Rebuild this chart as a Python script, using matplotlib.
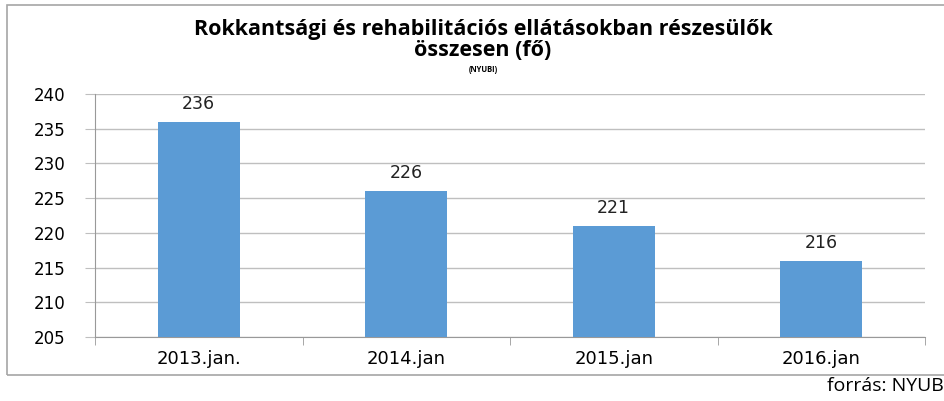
import numpy as np
import matplotlib.pyplot as plt
from matplotlib.patches import Rectangle

categories = ['2013.jan.', '2014.jan', '2015.jan', '2016.jan']
values = [236, 226, 221, 216]
yticks = [205, 210, 215, 220, 225, 230, 235, 240]

fig = plt.figure(figsize=(9.44, 4.01), dpi=100)
ax = fig.add_axes([95/944, 1-337/401, 830/944, 243/401])

# chart border
fig.patches.append(Rectangle((7/944, 1-375/401), 1.0, 370/401, transform=fig.transFigure,
                             fill=False, edgecolor='#a6a6a6', linewidth=1.2))

x = np.arange(len(categories))
bars = ax.bar(x, np.array(values) - 205, bottom=205, width=0.395, color='#5b9bd5', zorder=3)
for xi, v in zip(x, values):
    ax.annotate(str(v), (xi, v), xytext=(0, 6.5), textcoords='offset points',
                ha='center', va='bottom', fontsize=12.5, family='DejaVu Sans', color='#222222')

ax.set_xlim(-0.5, len(categories) - 0.5)
ax.set_ylim(205, 240)
ax.set_yticks(yticks)
ax.set_yticklabels([str(t) for t in yticks], fontsize=12, family='DejaVu Sans')
ax.yaxis.grid(True, color='#bfbfbf', linewidth=1, zorder=0)

ax.set_xticks(x)
ax.set_xticklabels(categories, fontsize=13, family='DejaVu Sans')
ax.set_xticks(np.arange(len(categories) + 1) - 0.5, minor=True)
ax.tick_params(axis='x', which='major', length=0, pad=9)
ax.tick_params(axis='x', which='minor', length=6, color='#999999')
ax.tick_params(axis='y', length=7, color='#bfbfbf', pad=14)

for s in ['top', 'right']:
    ax.spines[s].set_visible(False)
ax.spines['left'].set_color('#999999')
ax.spines['bottom'].set_color('#999999')

fig.text(483/944, 1-29/401, 'Rokkantsági és rehabilitációs ellátásokban részesülők',
         ha='center', va='center', fontsize=15.5, fontweight='bold', family='Open Sans')
fig.text(483/944, 1-51/401, 'összesen (fő)', ha='center', va='center',
         fontsize=15.5, fontweight='bold', family='Open Sans')
fig.text(483/944, 1-69/401, '(NYUBI)', ha='center', va='center',
         fontsize=5.5, fontweight='bold', family='Open Sans')
fig.text(944/944, 1-386/401, 'forrás: NYUB', ha='right', va='center',
         fontsize=14, family='Open Sans')

fig.savefig('out.png', dpi=100)
